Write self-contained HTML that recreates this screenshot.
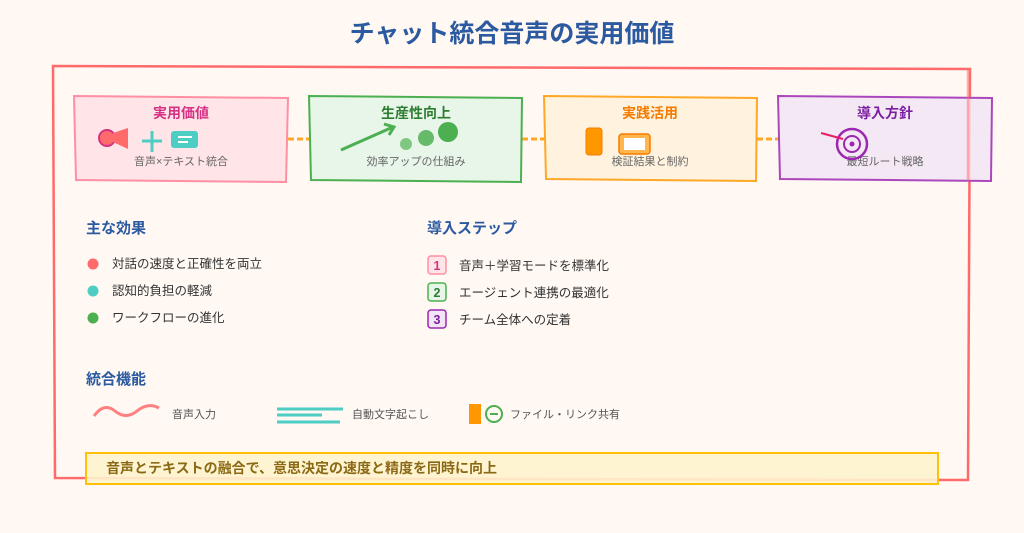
<!DOCTYPE html>
<html><head><meta charset="utf-8"><style>
html,body{margin:0;padding:0;background:#fff8f3;}
svg{display:block;font-family:"Liberation Sans","Noto Sans CJK JP",sans-serif;}
</style></head><body>
<svg width="1024" height="533" viewBox="0 0 1024 533" xmlns="http://www.w3.org/2000/svg">
<rect width="1024" height="533" fill="#fff8f3"/>
<text x="512" y="42" text-anchor="middle" font-size="25" font-weight="bold" fill="#2c5aa0">チャット統合音声の実用価値</text>
<path d="M53,66 L970,69 L968,480 L55,478 Z" fill="none" stroke="#ff6b6b" stroke-width="2.5"/>
<g stroke="#ffa726" stroke-width="3" stroke-dasharray="6,3">
<line x1="288" y1="139" x2="309" y2="139"/><line x1="522" y1="139" x2="544" y2="139"/><line x1="757" y1="139" x2="778" y2="139"/>
</g>
<path d="M74,96 L288,98 L286,182 L76,180 Z" fill="#ffe4e8" stroke="#ff8fa3" stroke-width="2"/>
<path d="M309,96 L522,98 L521,182 L311,180 Z" fill="#e8f5e9" stroke="#4caf50" stroke-width="2"/>
<path d="M544,96 L757,98 L756,181 L546,179 Z" fill="#fff3e0" stroke="#ffa726" stroke-width="2"/>
<path d="M778,96 L992,98 L991,181 L780,179 Z" fill="#f3e5f5" fill-opacity="0.85" stroke="#ab47bc" stroke-width="2"/>
<line x1="968" y1="69" x2="968" y2="181" stroke="#ff6b6b" stroke-width="2.5" opacity="0.5"/>
<g font-size="14" font-weight="bold" text-anchor="middle">
<text x="181" y="118" fill="#d63384">実用価値</text>
<text x="416" y="118" fill="#2e7d32">生産性向上</text>
<text x="650" y="118" fill="#f57c00">実践活用</text>
<text x="885" y="118" fill="#7b1fa2">導入方針</text>
</g>
<g font-size="11" fill="#666" text-anchor="middle">
<text x="181" y="165">音声×テキスト統合</text>
<text x="416" y="165">効率アップの仕組み</text>
<text x="650" y="165">検証結果と制約</text>
<text x="885" y="165">最短ルート戦略</text>
</g>
<circle cx="107" cy="138" r="8" fill="#ff6b6b" stroke="#d63384" stroke-width="2"/>
<path d="M113,133 L128,128 L128,149 L113,142 Z" fill="#ff6b6b"/>
<path d="M152,131 V152 M142,141 H162" stroke="#4ecdc4" stroke-width="3"/>
<rect x="171" y="131" width="27" height="17" rx="3" fill="#4ecdc4"/>
<path d="M178,137 H192 M178,142 H188" stroke="#fff" stroke-width="2"/>
<path d="M341,150 L393,127 M384,124 L394,127 L389,135" stroke="#4caf50" stroke-width="3" fill="none"/>
<circle cx="406" cy="144" r="6" fill="#81c784"/><circle cx="426" cy="138" r="8" fill="#66bb6a"/><circle cx="448" cy="132" r="10" fill="#4caf50"/>
<rect x="586" y="128" width="16" height="27" rx="3" fill="#ff9800" stroke="#f57c00"/>
<rect x="619" y="134" width="31" height="20" rx="3" fill="#ffb74d" stroke="#f57c00" stroke-width="1.5"/>
<rect x="624" y="138" width="21" height="12" fill="#fff"/>
<circle cx="852" cy="144" r="15" fill="none" stroke="#9c27b0" stroke-width="2.5"/>
<circle cx="852" cy="144" r="8" fill="none" stroke="#9c27b0" stroke-width="2"/>
<circle cx="852" cy="144" r="2.5" fill="#9c27b0"/>
<line x1="821" y1="133" x2="843" y2="139" stroke="#e91e63" stroke-width="2"/>
<g font-size="15" font-weight="bold" fill="#2c5aa0">
<text x="86" y="233">主な効果</text>
<text x="427" y="233">導入ステップ</text>
<text x="86" y="384">統合機能</text>
</g>
<g font-size="12.5" fill="#333">
<circle cx="93" cy="264" r="5.5" fill="#ff6b6b"/><text x="112" y="268">対話の速度と正確性を両立</text>
<circle cx="93" cy="291" r="5.5" fill="#4ecdc4"/><text x="112" y="295">認知的負担の軽減</text>
<circle cx="93" cy="318" r="5.5" fill="#4caf50"/><text x="112" y="322">ワークフローの進化</text>
<rect x="428" y="256" width="18" height="18" rx="3" fill="#ffe4e8" stroke="#ff8fa3" stroke-width="1.5"/>
<rect x="428" y="283" width="18" height="18" rx="3" fill="#e8f5e9" stroke="#4caf50" stroke-width="1.5"/>
<rect x="428" y="310" width="18" height="18" rx="3" fill="#f3e5f5" stroke="#9c27b0" stroke-width="1.5"/>
<text x="437" y="270" text-anchor="middle" font-weight="bold" fill="#d63384">1</text>
<text x="437" y="297" text-anchor="middle" font-weight="bold" fill="#2e7d32">2</text>
<text x="437" y="324" text-anchor="middle" font-weight="bold" fill="#7b1fa2">3</text>
<text x="459" y="270">音声＋学習モードを標準化</text>
<text x="459" y="297">エージェント連携の最適化</text>
<text x="459" y="324">チーム全体への定着</text>
</g>
<path d="M94,416 Q104,402 115,411 T137,411 T159,408" stroke="#ff6b6b" stroke-width="3" fill="none" opacity="0.85"/>
<g stroke="#4ecdc4" stroke-width="3"><line x1="277" y1="409" x2="343" y2="409"/><line x1="277" y1="415" x2="322" y2="415"/><line x1="277" y1="422" x2="340" y2="422"/></g>
<rect x="469" y="404" width="12" height="20" fill="#ff9800"/>
<circle cx="494" cy="414" r="8" fill="none" stroke="#4caf50" stroke-width="2"/>
<line x1="490" y1="414" x2="498" y2="414" stroke="#4caf50" stroke-width="2"/>
<g font-size="11" fill="#555">
<text x="172" y="418">音声入力</text>
<text x="352" y="418">自動文字起こし</text>
<text x="510" y="418">ファイル・リンク共有</text>
</g>
<rect x="86" y="453" width="852" height="31" fill="#fff3cd" fill-opacity="0.9" stroke="#ffc107" stroke-width="2"/>
<text x="106" y="473" font-size="14" font-weight="bold" fill="#8b6914">音声とテキストの融合で、意思決定の速度と精度を同時に向上</text>
</svg>
</body></html>
